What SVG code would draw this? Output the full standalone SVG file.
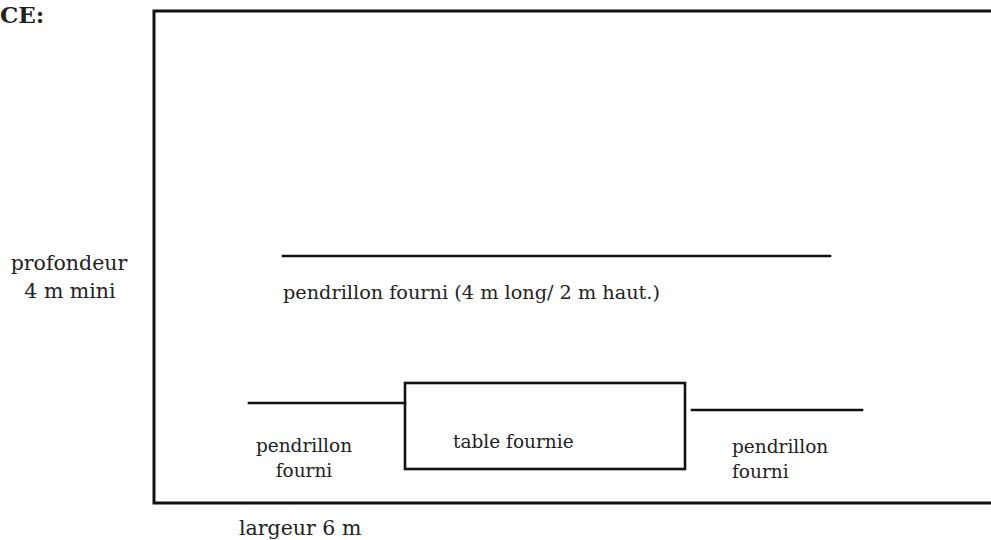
<svg xmlns="http://www.w3.org/2000/svg" width="991" height="540" viewBox="0 0 991 540">
<style>
.ln{stroke:#111;stroke-width:2.6;fill:none;stroke-linecap:square}
.t{font-family:"DejaVu Serif","Liberation Serif",serif;fill:#222;font-size:18.5px}
.big{font-size:20.5px}
</style>
<rect width="991" height="540" fill="#fff"/>
<text class="t" x="0" y="23" style="font-weight:bold;font-size:23px">CE:</text>
<g id="stage">
<path class="ln" d="M1000 11 H154 V503 H1000" style="stroke-width:3"/>
</g>
<g id="labels">
<text class="t big" x="69" y="270" text-anchor="middle">profondeur</text>
<text class="t big" x="70" y="298" text-anchor="middle">4 m mini</text>
<text class="t big" x="239" y="535">largeur 6 m</text>
</g>
<g id="pendrillon-top">
<line class="ln" x1="283" y1="256" x2="830" y2="256"/>
<text class="t" x="283" y="299" textLength="377" lengthAdjust="spacingAndGlyphs">pendrillon fourni (4 m long/ 2 m haut.)</text>
</g>
<g id="table">
<rect class="ln" x="405" y="383" width="280" height="86"/>
<text class="t" x="453" y="448">table fournie</text>
</g>
<g id="pendrillon-left">
<line class="ln" x1="249" y1="403" x2="405" y2="403"/>
<text class="t" x="304" y="452" text-anchor="middle">pendrillon</text>
<text class="t" x="304" y="477" text-anchor="middle">fourni</text>
</g>
<g id="pendrillon-right">
<line class="ln" x1="692" y1="410" x2="862" y2="410"/>
<text class="t" x="732" y="453">pendrillon</text>
<text class="t" x="732" y="478">fourni</text>
</g>
</svg>
